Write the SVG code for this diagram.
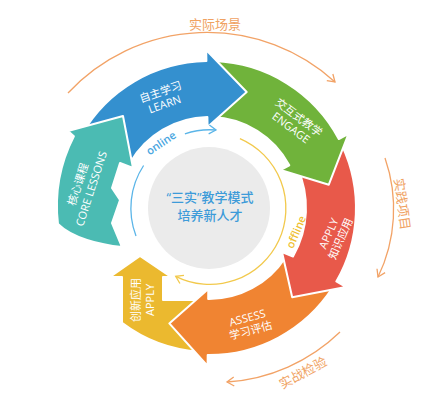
<svg xmlns="http://www.w3.org/2000/svg" width="444" height="411" viewBox="0 0 444 411">
<defs>
<style>
.arw{stroke:#fff;stroke-width:2;stroke-linejoin:round}
.lbl{font-family:"Open Sans","Noto Sans CJK SC",sans-serif;font-size:11px;fill:#fff;text-anchor:middle}
.cjk{font-family:"Noto Sans CJK SC","Open Sans",sans-serif}
.arc{fill:none;stroke-width:1.3}
.ot{font-family:"Noto Sans CJK SC",sans-serif;font-size:13px;fill:#f0a262;text-anchor:middle}
.io{font-family:"Open Sans",sans-serif;font-size:11px;font-weight:600;text-anchor:middle}
.ct{font-family:"Open Sans","Noto Sans CJK SC",sans-serif;font-size:13px;font-weight:500;fill:#3d9bd9;text-anchor:middle}
</style>
<marker id="mO" viewBox="-8 -6 10 12" refX="0" refY="0" markerWidth="10" markerHeight="12" markerUnits="userSpaceOnUse" orient="auto"><path d="M-7,-4.5 L0,0 L-7,4.5" fill="none" stroke="#f2a367" stroke-width="1.3"/></marker>
<marker id="mB" viewBox="-8 -6 10 12" refX="0" refY="0" markerWidth="10" markerHeight="12" markerUnits="userSpaceOnUse" orient="auto"><path d="M-7,-4.5 L0,0 L-7,4.5" fill="none" stroke="#5bb5e8" stroke-width="1.3"/></marker>
<marker id="mY" viewBox="-8 -6 10 12" refX="0" refY="0" markerWidth="10" markerHeight="12" markerUnits="userSpaceOnUse" orient="auto"><path d="M-7,-4.5 L0,0 L-7,4.5" fill="none" stroke="#f2c94c" stroke-width="1.3"/></marker>
</defs>
<rect width="444" height="411" fill="#fff"/>

<g id="node-create">
<path class="arw" fill="#ebb92f" d="M140,256 L171,277 L163,277 L163,300 L205,300 L205,352 L200,351.7 A144,144 0 0 1 122,322.8 L122,277 L110,277 Z"/>
<g transform="translate(143,300) rotate(-90)"><text class="lbl cjk" y="-3">创新应用</text><text class="lbl" y="11">APPLY</text></g>
</g>

<g id="node-assess">
<path class="arw" fill="#f08432" d="M332.3,288.1 A147,147 0 0 1 207.7,355 L207.6,366 L169.3,323.4 L208.3,289 L208.2,299 A91,91 0 0 0 285.3,257.6 L293.9,292.9 Z"/>
<g transform="translate(249,324) rotate(-15)"><text class="lbl" y="-2.5">ASSESS</text><text class="lbl cjk" y="10.5">学习评估</text></g>
</g>

<g id="node-apply">
<path class="arw" fill="#e8594a" d="M342.2,145.9 A147,147 0 0 1 336.3,281.5 L345.8,287 L292.2,297.2 L282,252 L293,256.5 A97,97 0 0 0 296.9,167 L325.9,181 Z"/>
<g transform="translate(334.5,236) rotate(-66)"><text class="lbl" y="-2.5">APPLY</text><text class="lbl cjk" y="10.5">知识应用</text></g>
</g>

<g id="node-engage">
<path class="arw" fill="#70b33b" d="M214.1,61.1 A147,147 0 0 1 338.8,139 L348.5,133.8 L328.8,184.7 L280.5,170 L289.3,165.3 A91,91 0 0 0 212.2,117.1 L242.1,92.6 Z"/>
<g transform="translate(295,122.5) rotate(37)"><text class="lbl cjk" y="-2.5">交互式教学</text><text class="lbl" y="10.5">ENGAGE</text></g>
</g>

<g id="node-learn">
<path class="arw" fill="#3490cf" d="M81.7,134.5 A147,147 0 0 1 206.4,61 L206.2,50 L246.7,92 L207.6,127 L207.4,117 A91,91 0 0 0 130.2,162.5 L122.7,124.6 Z"/>
<g transform="translate(162.5,98) rotate(-19)"><text class="lbl cjk" y="-2.5">自主学习</text><text class="lbl" y="10.5">LEARN</text></g>
</g>

<g id="node-core">
<path class="arw" fill="#4bbbb3" d="M68,131 L123,116 L133,168 L120,163 L112,188 L120,200 L112,223 L122,247 C100,245 72,238 58,224 A153,153 0 0 1 73.9,136.2 Z"/>
<g transform="translate(84.5,186.5) rotate(-72)"><text class="lbl cjk" y="-3">核心课程</text><text class="lbl" y="11">CORE LESSONS</text></g>
</g>

<g id="node-center">
<circle cx="209" cy="208" r="61" fill="#ebebeb"/>
<text class="ct" x="210" y="202">“三实”教学模式</text>
<text class="ct" x="210" y="219.5">培养新人才</text>
</g>

<g id="connectors">
<path class="arc" stroke="#5bb5e8" d="M136,236 A78,78 0 0 1 143.6,165.5"/>
<path class="arc" stroke="#5bb5e8" d="M184.9,133.8 A78,78 0 0 1 216,130" marker-end="url(#mB)"/>
<path class="arc" stroke="#f2c94c" d="M239.9,138.6 A76,76 0 1 1 175.7,276.3" marker-end="url(#mY)"/>
<path class="arc" stroke="#f2a367" d="M68,93 A190,190 0 0 1 335,82" marker-end="url(#mO)"/>
<path class="arc" stroke="#f2a367" d="M385,158 A155.5,155.5 0 0 1 378,277" marker-end="url(#mO)"/>
<path class="arc" stroke="#f2a367" d="M340,332 A179,179 0 0 1 227,382" marker-end="url(#mO)"/>
<text class="io" fill="#4aa6df" transform="translate(161,143) rotate(-34)" y="4">online</text>
<text class="io" fill="#efbf33" transform="translate(296,232) rotate(-67)" y="4">offline</text>
<text class="ot" x="215" y="28.5">实际场景</text>
<text class="ot" transform="translate(402,204) rotate(82)" y="4.5">实践项目</text>
<text class="ot" transform="translate(303,373) rotate(-28)" y="4.5">实战检验</text>
</g>
</svg>
